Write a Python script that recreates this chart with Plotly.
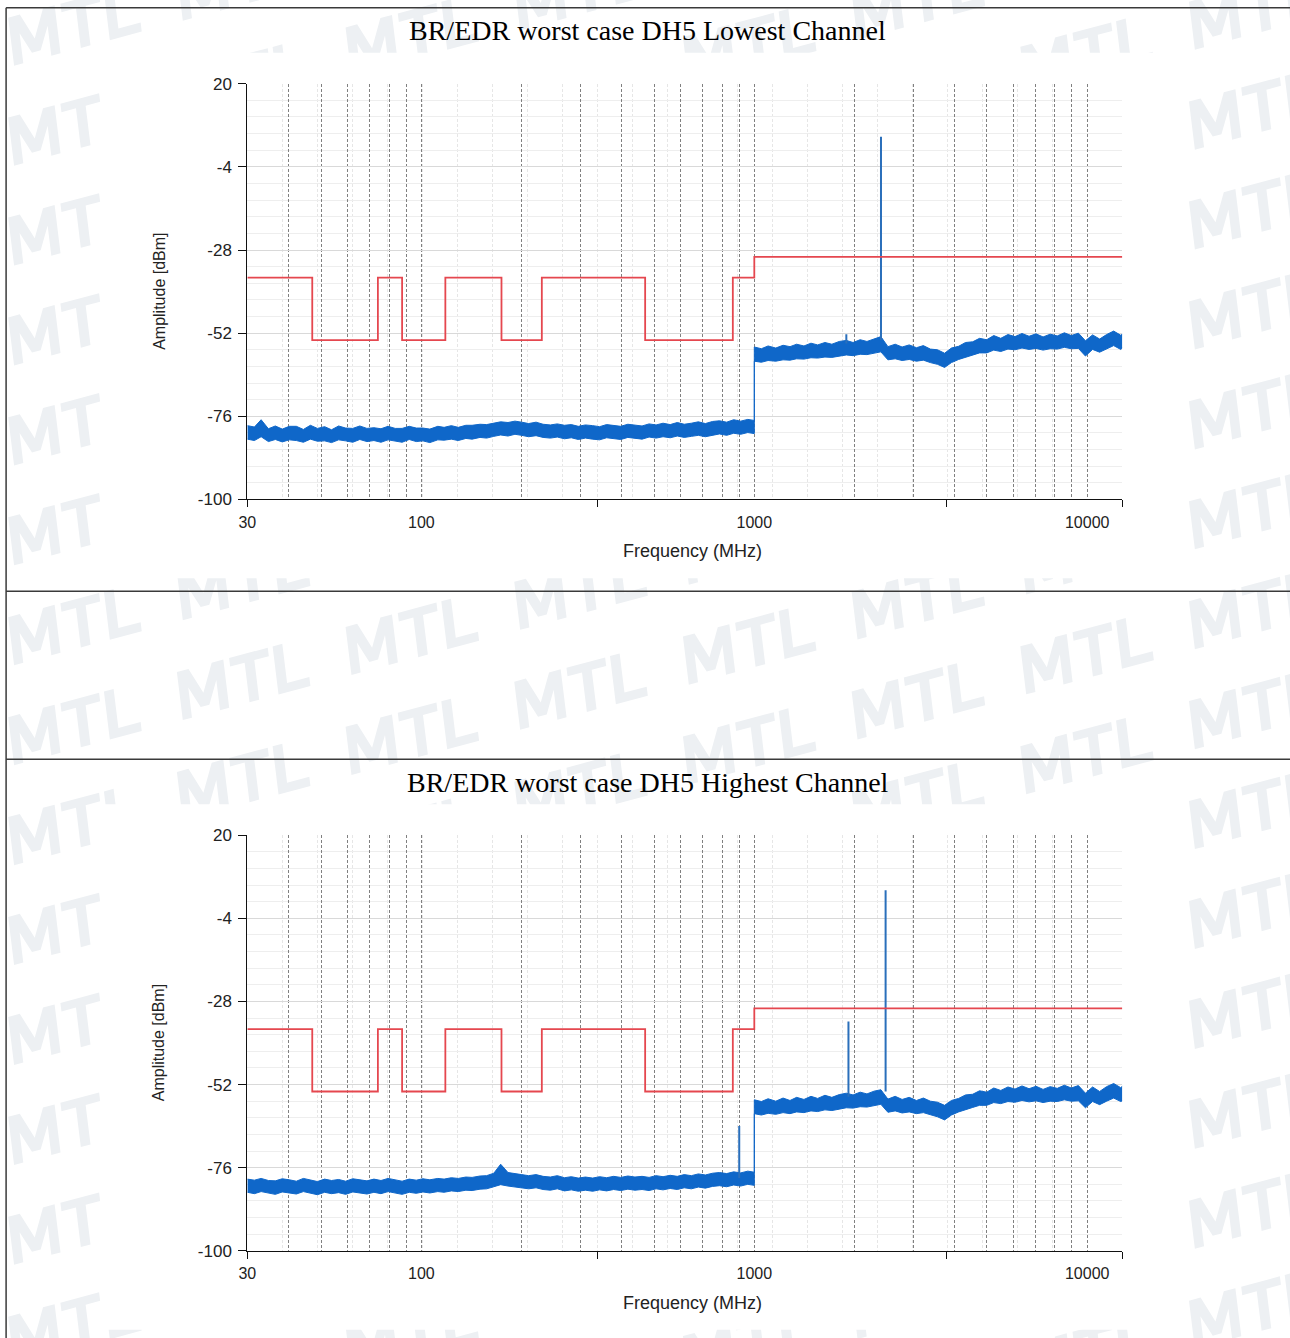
import math
import plotly.graph_objects as go

# The page shows up slightly scaled and offset in the final picture; these constants map the
# reference pixel positions back to figure pixels.
W, H = 1300, 1350
SX, OX = 0.992, 9.9
SY, OY = 0.9867, 8.2

# ---------------------------------------------------------------- data
titles = ["BR/EDR worst case DH5 Lowest Channel", "BR/EDR worst case DH5 Highest Channel"]

# limit line (MHz, dBm)
band_start = [30, 47, 74, 87.5, 118, 174, 230, 470, 862, 1000]
band_stop = [47, 74, 87.5, 118, 174, 230, 470, 862, 1000, 12750]
band_limit = [-36, -54, -36, -54, -36, -54, -36, -54, -36, -30]

# sweep points, 30 MHz - 1 GHz
freq_low = [30, 31.5, 33, 34.7, 36.4, 38.2, 40.1, 42.1, 44.2, 46.4, 48.7, 51.2, 53.7, 56.4, 59.2,
            62.2, 65.3, 68.6, 72, 75.6, 79.4, 83.4, 87.5, 91.9, 96.5, 101, 106, 112, 117, 123,
            129, 136, 142, 150, 157, 165, 173, 182, 191, 200, 210, 221, 232, 244, 256, 269, 282,
            296, 311, 327, 343, 360, 378, 397, 417, 438, 460, 483, 507, 532, 559, 587, 616, 647,
            679, 713, 749, 786, 826, 867, 910, 956, 1000]
# sweep points, 1 GHz - 12.75 GHz
freq_high = [1000, 1050, 1100, 1160, 1220, 1280, 1340, 1410, 1480, 1550, 1630, 1710, 1800, 1890,
             1980, 2080, 2180, 2290, 2400, 2520, 2650, 2780, 2920, 3070, 3220, 3380, 3550, 3730,
             3910, 4110, 4310, 4530, 4750, 4990, 5240, 5500, 5780, 6070, 6370, 6690, 7020, 7370,
             7740, 8130, 8540, 8960, 9410, 9880, 10380, 10900, 11440, 12010, 12610, 12750]

# lowest channel: noise band upper / lower edge (dBm)
lch_low_max = [-78.7, -79.1, -77.0, -79.6, -78.8, -79.7, -78.9, -78.9, -79.8, -78.6,
               -79.5, -79.0, -79.9, -78.8, -79.4, -79.5, -78.8, -79.5, -79.3, -79.6,
               -78.9, -79.5, -79.5, -78.9, -79.4, -79.4, -79.7, -78.9, -79.2, -78.7,
               -79.2, -78.6, -78.6, -78.3, -78.4, -78.0, -77.6, -77.8, -77.4, -77.7,
               -78.1, -77.7, -78.3, -78.5, -78.2, -78.6, -78.4, -78.9, -78.5, -78.7,
               -79.0, -78.4, -78.6, -78.9, -78.3, -78.5, -78.8, -78.2, -78.5, -78.0,
               -78.4, -77.8, -78.3, -78.0, -77.6, -78.1, -77.5, -77.3, -77.7, -77.0,
               -77.4, -76.9, -77.2]
lch_low_min = [-82.6, -83.0, -81.9, -83.3, -82.7, -83.4, -82.8, -83.0, -83.5, -82.6,
               -83.2, -83.1, -83.6, -82.8, -83.1, -83.5, -82.7, -83.3, -83.0, -83.5,
               -82.8, -83.2, -83.5, -82.7, -83.3, -83.1, -83.6, -82.8, -82.9, -82.6,
               -83.0, -82.4, -82.6, -82.1, -82.3, -81.8, -81.4, -81.7, -81.2, -81.5,
               -81.9, -81.6, -82.1, -82.3, -82.0, -82.5, -82.2, -82.7, -82.3, -82.6,
               -82.8, -82.2, -82.5, -82.7, -82.1, -82.4, -82.6, -82.0, -82.3, -81.9,
               -82.2, -81.7, -82.1, -81.8, -81.5, -81.9, -81.4, -81.1, -81.5, -80.9,
               -81.2, -80.7, -81.0]
lch_high_max = [-56.0, -56.5, -55.7, -56.3, -55.5, -55.9, -55.2, -55.7, -54.9, -55.4,
                -54.7, -55.2, -54.4, -54.1, -54.7, -53.9, -54.4, -53.6, -53.0, -55.9,
                -55.2, -56.0, -55.4, -56.2, -55.6, -56.6, -56.8, -57.8, -56.3, -55.8,
                -54.7, -54.5, -53.5, -53.9, -52.7, -53.5, -52.4, -53.0, -52.1, -52.9,
                -52.2, -53.1, -52.3, -52.8, -51.9, -52.7, -52.0, -54.2, -52.5, -53.7,
                -52.4, -51.4, -52.6, -52.3]
lch_high_min = [-60.1, -60.4, -59.9, -60.1, -59.7, -59.8, -59.4, -59.5, -59.1, -59.2,
                -58.9, -59.0, -58.6, -58.3, -58.5, -58.1, -58.2, -57.8, -57.4, -59.7,
                -59.4, -59.9, -59.6, -60.1, -59.8, -60.5, -61.0, -61.9, -60.5, -59.6,
                -58.9, -58.3, -57.7, -57.7, -56.9, -57.3, -56.6, -56.8, -56.3, -56.7,
                -56.4, -56.9, -56.5, -56.6, -56.1, -56.5, -56.4, -58.6, -56.7, -57.5,
                -56.6, -55.6, -56.7, -56.3]

# highest channel
hch_low_max = [-79.3, -79.6, -79.1, -79.7, -79.8, -79.2, -79.5, -79.9, -79.1, -79.5,
               -80.0, -79.3, -79.7, -79.4, -79.9, -79.2, -79.6, -79.8, -79.3, -79.7,
               -79.1, -79.5, -79.9, -79.3, -79.6, -79.2, -79.5, -79.1, -79.3, -78.9,
               -79.1, -78.7, -78.8, -78.4, -78.3, -77.6, -75.0, -77.4, -77.8, -78.0,
               -78.3, -78.0, -78.5, -78.7, -78.3, -78.9, -78.6, -79.0, -78.7, -79.0,
               -78.6, -78.9, -78.5, -78.8, -78.4, -78.7, -78.5, -78.8, -78.3, -78.6,
               -78.2, -78.5, -78.0, -78.3, -77.8, -78.1, -77.6, -77.4, -77.7, -77.2,
               -77.5, -77.0, -77.3]
hch_low_min = [-83.1, -83.5, -82.9, -83.4, -83.7, -83.0, -83.3, -83.6, -82.9, -83.4,
               -83.8, -83.1, -83.5, -83.2, -83.7, -83.0, -83.4, -83.6, -83.1, -83.5,
               -82.9, -83.3, -83.7, -83.1, -83.4, -83.0, -83.3, -82.9, -83.1, -82.7,
               -82.9, -82.5, -82.6, -82.2, -82.1, -81.5, -80.9, -81.3, -81.6, -81.8,
               -82.1, -81.8, -82.3, -82.5, -82.1, -82.7, -82.4, -82.8, -82.5, -82.8,
               -82.4, -82.7, -82.3, -82.6, -82.2, -82.5, -82.3, -82.6, -82.1, -82.4,
               -82.0, -82.3, -81.8, -82.1, -81.6, -81.9, -81.4, -81.2, -81.5, -81.0,
               -81.3, -80.8, -81.1]
hch_high_max = [-56.4, -56.9, -56.1, -56.8, -55.9, -56.6, -55.7, -56.3, -55.4, -56.0,
                -55.1, -55.7, -54.9, -54.5, -55.0, -54.2, -54.7, -53.9, -53.5, -56.2,
                -55.4, -56.3, -55.7, -56.6, -55.9, -56.8, -57.1, -58.0, -56.6, -56.0,
                -55.0, -54.8, -53.8, -54.2, -53.0, -53.7, -52.7, -53.3, -52.4, -53.2,
                -52.5, -53.4, -52.6, -53.1, -52.2, -53.0, -52.3, -54.5, -52.7, -54.0,
                -52.6, -51.7, -52.9, -52.5]
hch_high_min = [-60.4, -60.8, -60.3, -60.6, -60.1, -60.4, -59.9, -60.1, -59.6, -59.8,
                -59.3, -59.5, -59.1, -58.7, -58.8, -58.4, -58.5, -58.1, -57.7, -60.0,
                -59.6, -60.2, -59.9, -60.4, -60.1, -60.7, -61.3, -62.2, -60.8, -59.9,
                -59.2, -58.6, -58.0, -58.0, -57.2, -57.5, -56.9, -57.1, -56.6, -57.0,
                -56.7, -57.2, -56.8, -56.9, -56.4, -56.8, -56.7, -58.7, -56.9, -57.8,
                -56.8, -55.9, -56.9, -56.7]

# discrete emissions (MHz, peak dBm, noise floor under it)
lch_spur_freq = [1890, 2402]
lch_spur_peak = [-52.3, 4.7]
lch_spur_base = [-55.0, -54.0]
hch_spur_freq = [901, 1918, 2480]
hch_spur_peak = [-64.0, -33.8, 4.1]
hch_spur_base = [-79.0, -55.5, -54.0]

y_ticks = [20, -4, -28, -52, -76, -100]
x_grid = [30, 40, 50, 60, 70, 80, 90, 100, 200, 300, 400, 500, 600, 700, 800, 900,
          1000, 2000, 3000, 4000, 5000, 6000, 7000, 8000, 9000, 10000]
x_labels = {30: "30", 100: "100", 1000: "1000", 10000: "10000"}
x_marks = [30, 339, 3787, 12750]

# ---------------------------------------------------------------- helpers
BLUE = "#0f67c9"
RED = "#e5474f"
SANS = "Liberation Sans, Arial, sans-serif"
F_MIN, F_MAX = 30, 12750


def px(x):
    return ((x - OX) / SX) / W


def py(y):
    return 1 - ((y - OY) / SY) / H


# the analyser's own light grid: 25 equal steps across the log frequency span
log_span = math.log10(F_MAX / F_MIN)
light_grid = [F_MIN * 10 ** (log_span * k / 25) for k in range(1, 25)]

fig = go.Figure()

plot_left, plot_right = 248, 1122
charts = [
    dict(top=83, xa="x", ya="y", xt="x3", title=titles[0],
         f_max=lch_low_max + lch_high_max, f_min=lch_low_min + lch_high_min,
         sf=lch_spur_freq, sp=lch_spur_peak, sb=lch_spur_base),
    dict(top=835, xa="x2", ya="y2", xt="x4", title=titles[1],
         f_max=hch_low_max + hch_high_max, f_min=hch_low_min + hch_high_min,
         sf=hch_spur_freq, sp=hch_spur_peak, sb=hch_spur_base),
]

sweep_f = freq_low + freq_high
lim_x, lim_y = [], []
for s, e, v in zip(band_start, band_stop, band_limit):
    lim_x += [s, e]
    lim_y += [v, v]

annotations = []
layout_axes = {}
for c in charts:
    top = c["top"]
    bottom = top + 416
    xdom = [px(plot_left), px(plot_right)]
    ydom = [py(bottom), py(top)]
    xname = "xaxis" + c["xa"][1:]
    yname = "yaxis" + c["ya"][1:]
    tname = "xaxis" + c["xt"][1:]

    # noise band
    fig.add_trace(go.Scatter(x=sweep_f, y=c["f_max"], mode="lines", line=dict(color=BLUE, width=1),
                             xaxis=c["xa"], yaxis=c["ya"], hoverinfo="skip"))
    fig.add_trace(go.Scatter(x=sweep_f, y=c["f_min"], mode="lines", line=dict(color=BLUE, width=1),
                             fill="tonexty", fillcolor=BLUE, xaxis=c["xa"], yaxis=c["ya"],
                             hoverinfo="skip"))
    # spurs
    sx, sy = [], []
    for f, p, b in zip(c["sf"], c["sp"], c["sb"]):
        sx += [f, f, None]
        sy += [b, p, None]
    fig.add_trace(go.Scatter(x=sx, y=sy, mode="lines", line=dict(color="#2a6fbb", width=2),
                             xaxis=c["xa"], yaxis=c["ya"], hoverinfo="skip"))
    # limit
    fig.add_trace(go.Scatter(x=lim_x, y=lim_y, mode="lines", line=dict(color=RED, width=1.8),
                             xaxis=c["xa"], yaxis=c["ya"], hoverinfo="skip"))
    # carrier for the tick-mark axis
    fig.add_trace(go.Scatter(x=[F_MIN, F_MAX], y=[-100, -100], mode="lines", line=dict(width=0),
                             xaxis=c["xt"], yaxis=c["ya"], hoverinfo="skip"))

    xrange = [math.log10(F_MIN), math.log10(F_MAX)]
    layout_axes[xname] = dict(
        type="log", range=xrange, domain=xdom, anchor=c["ya"],
        tickmode="array", tickvals=x_grid, ticktext=[x_labels.get(v, "") for v in x_grid],
        ticks="", ticklabelstandoff=8, tickfont=dict(family=SANS, size=16, color="#222"),
        showgrid=True, gridcolor="#808080", griddash="3px,2px", gridwidth=1,
        minor=dict(tickmode="array", tickvals=light_grid, showgrid=True, gridcolor="#e6e6e6",
                   gridwidth=1, ticks=""),
        showline=True, linecolor="#111", linewidth=1.2, zeroline=False, fixedrange=True)
    layout_axes[tname] = dict(
        type="log", range=xrange, overlaying=c["xa"], anchor=c["ya"], side="bottom",
        tickmode="array", tickvals=x_marks, ticks="outside", ticklen=7, tickcolor="#111",
        showticklabels=False, showgrid=False, showline=False, zeroline=False, fixedrange=True)
    layout_axes[yname] = dict(
        range=[-100, 20], domain=ydom, anchor=c["xa"],
        tickmode="array", tickvals=y_ticks, ticktext=[str(v) for v in y_ticks],
        ticks="outside", ticklen=8, tickcolor="#111", ticklabelstandoff=3,
        tickfont=dict(family=SANS, size=17, color="#222"),
        showgrid=True, gridcolor="#d9d9d9", gridwidth=1,
        minor=dict(dtick=4.8, tick0=-100, showgrid=True, gridcolor="#eeeeee", gridwidth=1, ticks=""),
        showline=True, linecolor="#111", linewidth=1.2, zeroline=False, fixedrange=True)

    annotations += [
        dict(text=c["title"], x=px(648), y=py(top - 53), xref="paper", yref="paper",
             showarrow=False, xanchor="center", yanchor="middle",
             font=dict(family="Liberation Serif, Times New Roman, serif", size=28, color="#000")),
        dict(text="Frequency (MHz)", x=px(693), y=py(top + 468), xref="paper", yref="paper",
             showarrow=False, xanchor="center", yanchor="middle",
             font=dict(family=SANS, size=18, color="#222")),
        dict(text="Amplitude [dBm]", x=px(160), y=py(top + 208), xref="paper", yref="paper",
             showarrow=False, xanchor="center", yanchor="middle", textangle=-90,
             font=dict(family=SANS, size=16, color="#222")),
    ]

# ---------------------------------------------------------------- watermark + page frame
glyphs = {
    "M": [(0, 0), (0, 48), (12, 48), (24, 21), (36, 48), (48, 48), (48, 0), (38.5, 0), (38.5, 30),
          (28.5, 8), (19.5, 8), (9.5, 30), (9.5, 0)],
    "T": [(0, 48), (40, 48), (40, 39.5), (25, 39.5), (25, 0), (15, 0), (15, 39.5), (0, 39.5)],
    "L": [(0, 0), (0, 48), (10, 48), (10, 9), (33, 9), (33, 0)],
}
word = [("M", 0), ("T", 54), ("L", 99)]
ang = math.radians(15)
skew = math.tan(math.radians(8))
ca, sa = math.cos(ang), math.sin(ang)
parts = []
for i in range(8):
    for j in range(0, 18):
        ox = 15 + 168.5 * i
        oy = 65 + 100 * j - 45.15 * i
        if oy < 0 or oy > 1338 + 95:
            continue
        for ch, dx in word:
            pts = []
            for gx, gy in glyphs[ch]:
                lx, ly = gx + dx + gy * skew, gy
                sx_ = ox + lx * ca - ly * sa
                sy_ = oy - (lx * sa + ly * ca)
                pts.append(f"{px(sx_):.5f},{py(sy_):.5f}")
            parts.append("M" + " L".join(pts) + " Z")

shapes = [dict(type="path", path=" ".join(parts), xref="paper", yref="paper",
               fillcolor="#edf0f3", line=dict(width=0), layer="below")]
for top in (52, 804):
    shapes.append(dict(type="rect", x0=px(104), x1=px(1160), y0=py(top + 526), y1=py(top),
                       xref="paper", yref="paper", fillcolor="white", line=dict(width=0),
                       layer="below"))
for y in (7, 591, 759):
    shapes.append(dict(type="line", x0=px(7), x1=1, y0=py(y), y1=py(y),
                       xref="paper", yref="paper", line=dict(color="#3a3a3a", width=1.5)))
shapes.append(dict(type="line", x0=px(7), x1=px(7), y0=py(7), y1=0, xref="paper",
                   yref="paper", line=dict(color="#3a3a3a", width=1.5)))

fig.update_layout(
    width=W, height=H, autosize=False,
    margin=dict(l=0, r=0, t=0, b=0, pad=0),
    paper_bgcolor="white", plot_bgcolor="rgba(0,0,0,0)",
    showlegend=False, shapes=shapes, annotations=annotations,
    **layout_axes,
)

fig.write_html("out.html", config={"displayModeBar": False},
               post_script="document.body.style.margin='0';document.body.style.overflow='hidden';")
